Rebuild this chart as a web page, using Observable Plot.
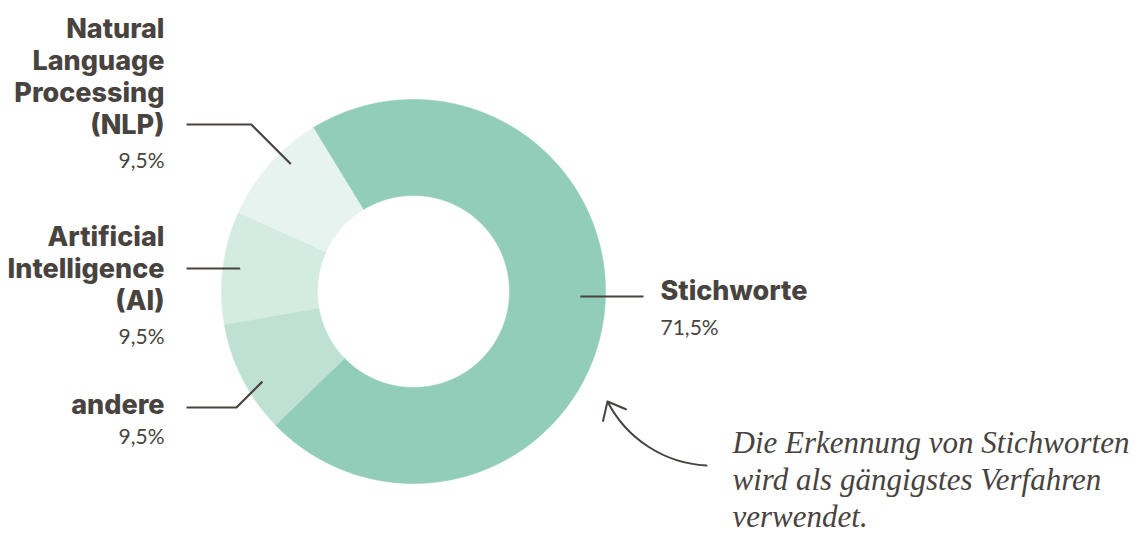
<!DOCTYPE html>
<html>
<head>
<meta charset="utf-8">
<script src="https://cdn.jsdelivr.net/npm/d3@7"></script>
<script src="https://cdn.jsdelivr.net/npm/@observablehq/plot@0.6"></script>
<style>
  html, body { margin: 0; padding: 0; background: #ffffff; }
  g[aria-label="pct"] text { letter-spacing: 1.6px; }
  g[aria-label="name"] text { letter-spacing: 0.9px; }
</style>
</head>
<body>
<div id="chart"></div>
<script>
// ---------- data ----------
const categories = ["Stichworte", "andere", "Artificial Intelligence (AI)", "Natural Language Processing (NLP)"];
const shares = [71.5, 9.5, 9.5, 9.5];
const labelLines = [["Stichworte"], ["andere"], ["Artificial", "Intelligence", "(AI)"], ["Natural", "Language", "Processing", "(NLP)"]];
const shareLabels = ["71,5%", "9,5%", "9,5%", "9,5%"];
const sliceColors = ["#92cdb9", "#bee1d4", "#d4ebe2", "#e7f3ee"];
const noteLines = ["Die Erkennung von Stichworten", "wird als gängigstes Verfahren", "verwendet."];

// ---------- layout ----------
const W = 1132, H = 541;
const cx = 413, cy = 291, R = 192, r0 = 96;
const startDeg = -31.5;
const ink = "#48433f";
const labelX = [660, 164, 164, 164];
const labelAnchor = ["start", "end", "end", "end"];
const firstBaseline = [299, 413, 245, 37];
const pctBaseline = [334, 443, 343, 167];
const leaderY = [296, 407, 268, 124];
const leaderOuterX = [643, 186, 186, 186];
const leaderAngle = [91.7, -120.8, -82.4, -43.9];
const leaderR = [167, 176, 175, 177];
const lineStep = 32;

// ---------- geometry from data ----------
const rad = Math.PI / 180;
const pie = d3.pie().sort(null).startAngle(startDeg * rad).endAngle(startDeg * rad + 2 * Math.PI);
const arcs = pie(shares);
const pt = (a, r) => [cx + r * Math.sin(a), cy - r * Math.cos(a)];

const slicePts = [];
arcs.forEach((a, i) => {
  const n = Math.max(8, Math.ceil((a.endAngle - a.startAngle) / (0.25 * rad)));
  const ring = [];
  for (let k = 0; k <= n; k++) ring.push(pt(a.startAngle + (a.endAngle - a.startAngle) * k / n, R));
  for (let k = n; k >= 0; k--) ring.push(pt(a.startAngle + (a.endAngle - a.startAngle) * k / n, r0));
  ring.push(ring[0]);
  ring.forEach(([x, y]) => slicePts.push({key: categories[i], x, y}));
});

const leaderPts = [];
categories.forEach((c, i) => {
  const [ex, ey] = pt(leaderAngle[i] * rad, leaderR[i]);
  const dir = labelAnchor[i] === "end" ? -1 : 1;
  const elbowX = ex + dir * Math.abs(ey - leaderY[i]);
  leaderPts.push({key: c, x: leaderOuterX[i], y: leaderY[i]});
  leaderPts.push({key: c, x: elbowX, y: leaderY[i]});
  leaderPts.push({key: c, x: ex, y: ey});
});

const nameRows = [];
labelLines.forEach((lines, i) => lines.forEach((t, j) => nameRows.push({
  text: t, x: labelX[i], y: firstBaseline[i] + j * lineStep, anchor: labelAnchor[i]
})));
const pctRows = shareLabels.map((t, i) => ({text: t, x: labelX[i], y: pctBaseline[i], anchor: labelAnchor[i]}));
const noteRows = noteLines.map((t, j) => ({text: t, x: 732, y: 452 + j * 37}));

const boldFont = {fontFamily: "Inter, Lato, sans-serif", fontWeight: 800, fontSize: 27, fill: ink, ariaLabel: "name"};
const pctFont = {fontFamily: "Lato, sans-serif", fontWeight: 400, fontSize: 21, fill: ink, ariaLabel: "pct"};

const chart = Plot.plot({
  width: W,
  height: H,
  margin: 0,
  x: {domain: [0, W], range: [0, W], axis: null},
  y: {domain: [0, H], range: [0, H], axis: null},
  color: {domain: categories, range: sliceColors},
  style: {background: "#ffffff", color: ink},
  marks: [
    Plot.line(slicePts, {x: "x", y: "y", z: "key", fill: "key", stroke: "key", strokeWidth: 0.6, curve: "linear"}),
    Plot.line(leaderPts, {x: "x", y: "y", z: "key", stroke: ink, strokeWidth: 2.2, strokeLinejoin: "miter", strokeLinecap: "butt"}),
    Plot.text(nameRows.filter(d => d.anchor === "end"), {x: "x", y: "y", text: "text", textAnchor: "end", lineAnchor: "bottom", ...boldFont}),
    Plot.text(nameRows.filter(d => d.anchor === "start"), {x: "x", y: "y", text: "text", textAnchor: "start", lineAnchor: "bottom", ...boldFont}),
    Plot.text(pctRows.filter(d => d.anchor === "end"), {x: "x", y: "y", text: "text", textAnchor: "end", lineAnchor: "bottom", ...pctFont}),
    Plot.text(pctRows.filter(d => d.anchor === "start"), {x: "x", y: "y", text: "text", textAnchor: "start", lineAnchor: "bottom", ...pctFont}),
    Plot.text(noteRows, {x: "x", y: "y", text: "text", textAnchor: "start", lineAnchor: "bottom",
      fontFamily: "Liberation Serif", fontStyle: "italic", fontSize: 31, fill: ink}),
    Plot.arrow([{x1: 706, y1: 465, x2: 607, y2: 401}], {x1: "x1", y1: "y1", x2: "x2", y2: "y2",
      bend: 30, headLength: 15, headAngle: 80, stroke: ink, strokeWidth: 2})
  ]
});
document.getElementById("chart").appendChild(chart);
</script>
</body>
</html>
